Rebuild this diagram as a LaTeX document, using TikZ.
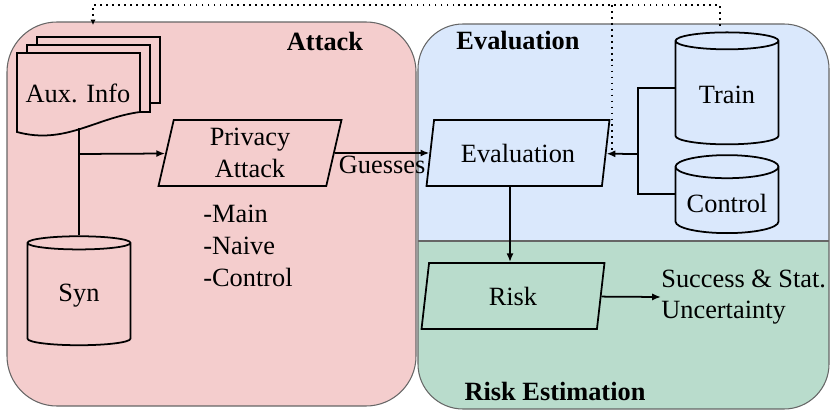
\documentclass[tikz,border=0pt]{standalone}
\usepackage{fontspec}
\setmainfont{Liberation Serif}
\usetikzlibrary{shapes.geometric,arrows.meta}
\definecolor{attackpink}{RGB}{244,205,205}
\definecolor{evalblue}{RGB}{218,232,252}
\definecolor{riskgreen}{RGB}{185,220,204}
\tikzset{
  panel/.style={draw=black!60,line width=0.6pt},
  link/.style={line width=1pt},
  arr/.style={link,-{Latex[length=5pt,width=4pt]}},
  dots/.style={line width=1pt,dash pattern=on 1pt off 2.4pt},
  db/.style={cylinder,shape border rotate=90,aspect=0.25,draw,line width=1pt,minimum width=2.06cm},
  para/.style={trapezium,trapezium left angle=76,trapezium right angle=104,trapezium stretches body,
    draw,line width=1pt,minimum width=3.66cm,minimum height=1.32cm,align=center},
  title/.style={font=\fontsize{15}{18}\selectfont\bfseries}
}
\begin{document}
\begin{tikzpicture}[x=0.02cm,y=-0.02cm,font=\fontsize{15}{18}\selectfont]
\useasboundingbox (0,0) rectangle (834,419);
% panels
\draw[panel,fill=attackpink,rounded corners=1cm] (7,22) rectangle (416,406);
\fill[riskgreen,rounded corners=0.9cm] (418,24) rectangle (829,409);
\begin{scope}
\clip (418,0) rectangle (829,241);
\fill[evalblue,rounded corners=0.9cm] (418,24) rectangle (829,409);
\end{scope}
\draw[panel,rounded corners=0.9cm] (418,24) rectangle (829,409);
\draw[panel] (418,241) -- (829,241);
\node[title] (attacktitle) at (325,41) {Attack};
\node[title] (evaltitle) at (518,41) {Evaluation};
\node[title] (risktitle) at (555,391) {Risk Estimation};
% aux info stack
\draw[link,fill=attackpink] (37,37) rectangle (160,103);
\draw[link,fill=attackpink] (27,45) rectangle (150,112);
\draw[link,fill=attackpink] (17,53) -- (140,53) -- (140,112)
  .. controls (95,118) and (65,145) .. (17,132) -- cycle;
\node (aux) at (78,93) {Aux. Info};
\coordinate (auxbottom) at (79,128);
\node[db,minimum height=2.18cm] (syn) at (79,296) {Syn};
\coordinate (branch) at (79,154);
\draw[link] (auxbottom) -- (syn.top);
% attack
\node[para] (attack) at (250,153) {Privacy\\Attack};
\draw[arr] (branch) -- (attack);
\node[align=left,anchor=north west,inner sep=0] (variants) at (203,205) {-Main\\-Naive\\-Control};
% evaluation
\node[para] (evaluation) at (518,153) {Evaluation};
\draw[arr] (attack) -- node[below,inner sep=1pt] (guess) {Guesses} (evaluation);
\node[db,minimum height=2.24cm] (train) at (727,95) {Train};
\node[db,minimum height=1.56cm] (control) at (727,203) {Control};
\coordinate (merge) at (638,154);
\draw[link] (train.west |- train.shape center) -| (merge) |- (control.west |- control.shape center);
\draw[arr] (merge) -- (evaluation);
% risk
\node[para] (risk) at (513,296) {Risk};
\draw[arr] ([xshift=-0.16cm]evaluation.south) -- ([xshift=-0.16cm]evaluation.south |- risk.north);
\node[align=left,anchor=west,inner sep=0] (success) at (661,297) {Success \& Stat.\\Uncertainty};
\draw[arr] (risk) -- (success.west);
% dotted feedback
\coordinate (trainout) at (720,26);
\coordinate (dottop) at (93,5);
\coordinate (auxin) at (93,25);
\coordinate (evaltap) at (612,5);
\draw[dots,-{Latex[length=3pt,width=3pt]}] (trainout) |- (dottop) -- (auxin);
\draw[dots] (evaltap) -- (evaltap |- evaluation.east);
\end{tikzpicture}
\end{document}
